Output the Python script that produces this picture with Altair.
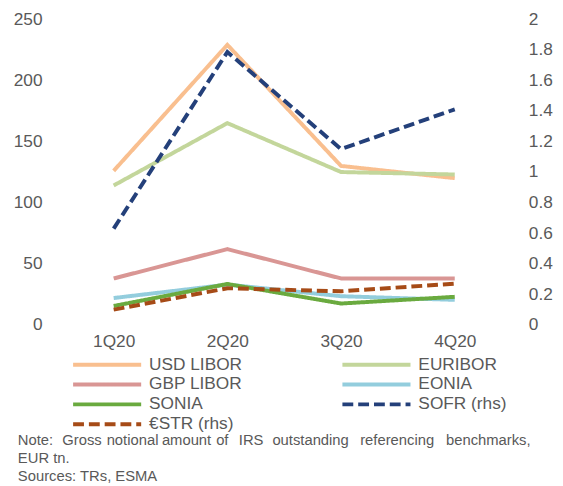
import altair as alt
import pandas as pd

quarters = ["1Q20", "2Q20", "3Q20", "4Q20"]

usd_libor = [126, 229, 130, 120]
euribor = [114, 165, 125, 123]
gbp_libor = [38, 62, 38, 38]
eonia = [22, 33, 23.5, 20.5]
sonia = [15.5, 33.5, 17.5, 23]
sofr_rhs = [0.63, 1.785, 1.15, 1.41]
estr_rhs = [0.10, 0.24, 0.22, 0.27]

series_names = ["USD LIBOR", "EURIBOR", "GBP LIBOR", "EONIA", "SONIA", "SOFR (rhs)", "€STR (rhs)"]
series_colors = ["#F9BF8F", "#C3D69B", "#D99694", "#93CDDD", "#6AAA3F", "#24407A", "#A64B17"]
series_dashes = [[1, 0], [1, 0], [1, 0], [1, 0], [1, 0], [11, 5], [11, 5]]

note_words = ["Note:", "Gross", "notional", "amount", "of", "IRS", "outstanding",
              "referencing", "benchmarks,"]
note_lines = ["EUR tn.", "Sources: TRs, ESMA"]

# layout of the justified first note line (pixel offsets from the plot's left edge)
note_word_x = [-39.5, 5.5, 50.5, 106.5, 161.5, 184.5, 218.5, 307.5, 394.5]

left_series = {"USD LIBOR": usd_libor, "EURIBOR": euribor, "GBP LIBOR": gbp_libor,
               "EONIA": eonia, "SONIA": sonia}
right_series = {"SOFR (rhs)": sofr_rhs, "€STR (rhs)": estr_rhs}

left_df = pd.DataFrame([
    {"quarter": q, "series": s, "value": v}
    for s, vals in left_series.items() for q, v in zip(quarters, vals)
])
right_df = pd.DataFrame([
    {"quarter": q, "series": s, "value": v}
    for s, vals in right_series.items() for q, v in zip(quarters, vals)
])

FONT = "Liberation Sans"
GREY = "#595959"

legend = alt.Legend(
    title=None, orient="none", legendX=14.5, legendY=341.8, columns=2,
    direction="horizontal",
    symbolType="stroke", symbolSize=4761, symbolStrokeWidth=4, clipHeight=17,
    labelFontSize=17.5, labelColor=GREY, labelFont=FONT, labelOffset=6,
    rowPadding=2.1, columnPadding=99, padding=0,
)

x_enc = alt.X("quarter:N", sort=quarters,
              scale=alt.Scale(type="point", padding=0.5),
              axis=alt.Axis(title=None, labelAngle=0, domain=False, ticks=False, grid=False,
                            labelFontSize=17.5, labelColor=GREY, labelFont=FONT,
                            labelPadding=8))
color_enc = alt.Color("series:N", scale=alt.Scale(domain=series_names, range=series_colors),
                      legend=legend)
dash_enc = alt.StrokeDash("series:N", scale=alt.Scale(domain=series_names, range=series_dashes),
                          legend=legend)

left = alt.Chart(left_df).mark_line(strokeWidth=4).encode(
    x=x_enc,
    y=alt.Y("value:Q", scale=alt.Scale(domain=[0, 250], nice=False),
            axis=alt.Axis(title=None, values=[0, 50, 100, 150, 200, 250], domain=False,
                          ticks=False, grid=False, labelFontSize=17.5, labelColor=GREY,
                          labelFont=FONT, labelPadding=15, orient="left")),
    color=color_enc,
    strokeDash=dash_enc,
)

right = alt.Chart(right_df).mark_line(strokeWidth=4).encode(
    x=x_enc,
    y=alt.Y("value:Q", scale=alt.Scale(domain=[0, 2], nice=False),
            axis=alt.Axis(title=None, values=[0, 0.2, 0.4, 0.6, 0.8, 1, 1.2, 1.4, 1.6, 1.8, 2],
                          format="~g", domain=False, ticks=False, grid=False,
                          labelFontSize=17.5, labelColor=GREY, labelFont=FONT,
                          labelPadding=17, orient="right")),
    color=color_enc,
    strokeDash=dash_enc,
)

note_layers = []
for w, xw in zip(note_words, note_word_x):
    note_layers.append(
        alt.Chart(pd.DataFrame({"t": [w]})).mark_text(
            align="left", baseline="alphabetic", fontSize=15, font=FONT, color=GREY
        ).encode(x=alt.value(xw), y=alt.value(431.7), text="t:N")
    )
for i, line in enumerate(note_lines):
    note_layers.append(
        alt.Chart(pd.DataFrame({"t": [line]})).mark_text(
            align="left", baseline="alphabetic", fontSize=15, font=FONT, color=GREY
        ).encode(x=alt.value(-39.5), y=alt.value(431.7 + 18.2 * (i + 1)), text="t:N")
    )

chart = alt.layer(left, right, *note_layers).resolve_scale(
    y="independent"
).properties(
    width=461, height=310,
    autosize=alt.AutoSizeParams(type="none"),
    padding={"left": 49.5, "top": 8, "right": 44, "bottom": 162},
).configure_view(stroke=None)

chart.save("out.html", embed_options={"renderer": "svg", "actions": False})
